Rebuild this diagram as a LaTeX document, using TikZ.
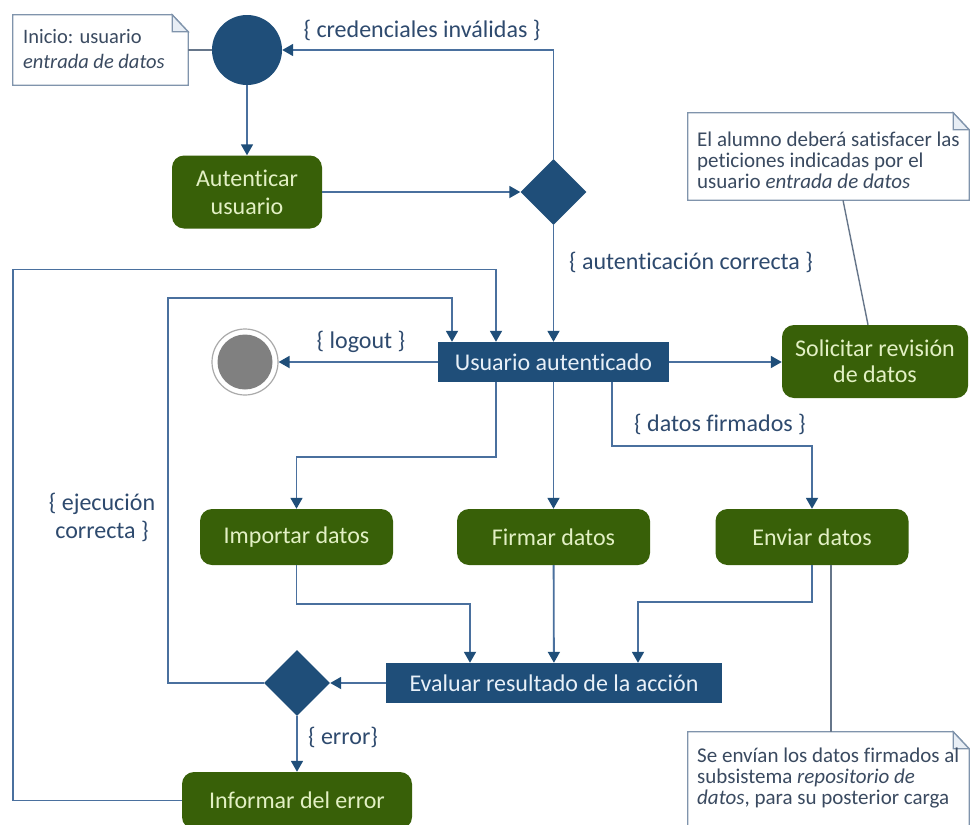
\documentclass[tikz,border=0pt]{standalone}
\usepackage{fontspec}
\setmainfont{Carlito}[Ligatures=NoCommon]
\usetikzlibrary{arrows.meta,shapes.geometric}

\definecolor{boxblue}{RGB}{31,78,121}
\definecolor{actgreen}{RGB}{56,96,8}
\definecolor{acttext}{RGB}{226,240,196}
\definecolor{statetext}{RGB}{232,240,248}
\definecolor{linecol}{RGB}{74,112,158}
\definecolor{guardcol}{RGB}{46,74,110}
\definecolor{notetextcol}{RGB}{58,74,96}
\definecolor{noteline}{RGB}{128,148,172}
\definecolor{foldfill}{RGB}{232,238,245}
\definecolor{endgray}{RGB}{128,128,128}
\definecolor{endring}{RGB}{170,170,170}

\begin{document}
\begin{tikzpicture}[x=1pt,y=-1pt,
  action/.style={rectangle, rounded corners=12pt, fill=actgreen, text=acttext,
    font=\fontsize{24}{28}\selectfont, align=center, inner sep=0pt},
  statebox/.style={rectangle, fill=boxblue, text=statetext,
    font=\fontsize{24}{28}\selectfont, inner sep=0pt},
  decision/.style={diamond, fill=boxblue, minimum width=66pt, minimum height=66pt, inner sep=0pt},
  flow/.style={draw=linecol, line width=1.8pt,
    -{Triangle[width=12pt,length=11pt,color=boxblue]}},
  link/.style={draw=noteline!80!black, line width=1.4pt},
  guard/.style={text=guardcol, font=\fontsize{24}{28}\selectfont, inner sep=0pt, align=center},
  notebody/.style={rectangle, inner sep=0pt},
  noteframe/.style={draw=noteline, line width=1.3pt, line join=miter},
  notetext/.style={text=notetextcol, font=\fontsize{21}{21}\selectfont, inner sep=0pt, align=left}
]
\useasboundingbox (0,0) rectangle (970,825);
\clip (0,0) rectangle (970,825);
\fill[white] (0,0) rectangle (970,825);

% ---- activity nodes ----
\node[circle, fill=boxblue, minimum size=70pt, inner sep=0pt] (start) at (247,50) {};
\node[action, minimum width=150pt, minimum height=73pt] (auth) at (247,192) {Autenticar\\usuario};
\node[decision] (d1) at (553.5,192) {};
\node[statebox, minimum width=231pt, minimum height=40pt] (user) at (553.5,362) {Usuario autenticado};
\node[circle, draw=endring, line width=1.2pt, fill=white, minimum size=66pt, inner sep=0pt] (end) at (245,362) {};
\node[circle, fill=endgray, minimum size=55pt, inner sep=0pt] (endcore) at (end) {};
\node[action, minimum width=186pt, minimum height=73pt, font=\fontsize{24}{26}\selectfont] (sol) at (875,361.5) {Solicitar revisión\\de datos};
\node[action, minimum width=193pt, minimum height=56pt] (imp) at (296.5,537) {Importar datos};
\node[action, minimum width=193pt, minimum height=56pt] (firm) at (553.5,537) {Firmar datos};
\node[action, minimum width=193pt, minimum height=56pt] (env) at (812,537) {Enviar datos};
\node[statebox, minimum width=336pt, minimum height=40pt] (eval) at (554,683) {Evaluar resultado de la acción};
\node[decision] (d2) at (297,683) {};
\node[action, minimum width=230pt, minimum height=57pt] (inf) at (297,800.5) {Informar del error};

% ---- notes with folded corner ----
\node[notebody, minimum width=175pt, minimum height=70pt] (n1) at (100.5,50) {};
\node[notebody, minimum width=281pt, minimum height=87pt] (n2) at (828.5,156.5) {};
\node[notebody, minimum width=281pt, minimum height=110pt] (n3) at (828.5,787) {};
\foreach \n in {n1,n2,n3}{
  \draw[noteframe, fill=white] (\n.south west) -- (\n.north west) -- ([xshift=-16pt]\n.north east)
     -- ([yshift=-17pt]\n.north east) -- (\n.south east) -- cycle;
  \draw[noteframe, fill=foldfill] ([xshift=-16pt]\n.north east) -- ([xshift=-16pt,yshift=-17pt]\n.north east)
     -- ([yshift=-17pt]\n.north east) -- cycle;
}
\node[notetext, anchor=north west, font=\fontsize{20.5}{25}\selectfont] (t1) at (23,29)
  {Inicio: usuario\\\textit{entrada de datos}};
\node[notetext, anchor=north west] (t2) at (697,132)
  {El alumno deberá satisfacer las\\peticiones indicadas por el\\usuario \textit{entrada de datos}};
\node[notetext, anchor=north west] (t3) at (697,748)
  {Se envían los datos firmados al\\subsistema \textit{repositorio de}\\\textit{datos}, para su posterior carga};

% ---- connectors ----
\draw[link] (n1.east) -- (start.west);
\draw[flow] (start) -- (auth);
\draw[flow] (auth) -- (d1);
\draw[flow] (d1.north) |- (start.east);
\draw[flow] (d1) -- (user);
\draw[flow] (user.west) -- (end.east);
\draw[flow] (user.east) -- (user.east -| sol.west);
\draw[link] ([xshift=14.5pt]n2.south) -- ([xshift=-7pt]sol.north);
\draw[flow] ([xshift=-57.5pt]user.south) -- ++(0,75) -| (imp.north);
\draw[flow] (user) -- (firm);
\draw[flow] ([xshift=58.5pt]user.south) -- ++(0,64) -| (env.north);
\draw[flow] (imp.south) -- ++(0,39) -| ([xshift=-84pt]eval.north);
\draw[flow] (firm) -- (eval);
\draw[flow] (env.south) -- ++(0,37) -| ([xshift=84pt]eval.north);
\draw[link] ([xshift=19pt]env.south) -- ([xshift=19pt]env.south |- n3.north);
\draw[flow] (eval.west) -- (d2.east);
\draw[flow] (d2.west) -- ++(-96,0) -- ++(0,-385) -| ([xshift=-101.5pt]user.north);
\draw[flow] (d2) -- (inf);
\draw[flow] (inf.west) -- ++(-169,0) -- ++(0,-531) -| ([xshift=-57.5pt]user.north);

% ---- guards ----
\node[guard] (g1) at (422,30) {\{ credenciales inválidas \}};
\node[guard] (g2) at (691,262) {\{ autenticación correcta \}};
\node[guard] (g3) at (361,342) {\{ logout \}};
\node[guard] (g4) at (720,424) {\{ datos firmados \}};
\node[guard] (g5) at (102,517) {\{ ejecución\\correcta \}};
\node[guard] (g6) at (343,737) {\{ error\}};
\end{tikzpicture}
\end{document}
